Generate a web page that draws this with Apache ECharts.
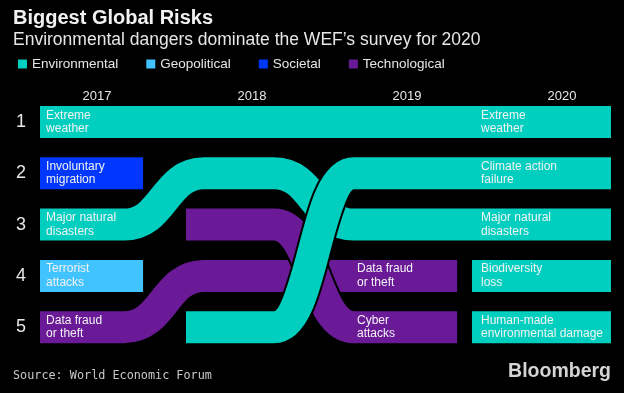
<!DOCTYPE html>
<html><head><meta charset="utf-8">
<script src="https://cdn.jsdelivr.net/npm/echarts@6/dist/echarts.min.js"></script>
<style>html,body{margin:0;padding:0;background:#000}#c{width:624px;height:393px}</style>
</head><body><div id="c"></div>
<script>
// ---- data ----
const years = [2017, 2018, 2019, 2020];
const rankLabels = [1, 2, 3, 4, 5];
const categoryNames = ['Environmental', 'Geopolitical', 'Societal', 'Technological'];
const categoryColors = ['#00CFC0', '#41C3FF', '#0037FF', '#6B1A97'];
const risks = ['Extreme\nweather', 'Involuntary\nmigration', 'Major natural\ndisasters', 'Terrorist\nattacks',
  'Data fraud\nor theft', 'Cyber\nattacks', 'Climate action\nfailure', 'Biodiversity\nloss', 'Human-made\nenvironmental damage'];
const riskCategory = ['Environmental', 'Societal', 'Environmental', 'Geopolitical',
  'Technological', 'Technological', 'Environmental', 'Environmental', 'Environmental'];
const rank2017 = [1, 2, 3, 4, 5, null, null, null, null];
const rank2018 = [1, null, 2, null, 4, 3, 5, null, null];
const rank2019 = [1, null, 3, null, 4, 5, 2, null, null];
const rank2020 = [1, null, 3, null, null, null, 2, 4, 5];
const labelRisk = [0, 1, 2, 3, 4, 4, 5, 0, 6, 2, 7, 8];
const labelYear = [2017, 2017, 2017, 2017, 2017, 2019, 2019, 2020, 2020, 2020, 2020, 2020];

// ---- layout (styles) ----
const rankByYear = [rank2017, rank2018, rank2019, rank2020];
const X_MIN = 2016.632, X_MAX = 2020.316;
const START_OFF = [0, -0.426, -0.4, -0.581];
const END_OFF = [0.297, 0.3, 0.323, 0.3];
const TRANS_MID = [0.432, 0.4, 0.4];
const TRANS_HALF = 0.258;
const CURVE = 0.5;
const BAND = 0.624;
const LABEL_OFF = {2017: -0.329, 2018: -0.32, 2019: -0.323, 2020: -0.523};
const FONT = '"Liberation Sans", Arial, sans-serif';
const drawOrder = ['Societal', 'Geopolitical', 'Technological', 'Environmental'];

function span(ri) {
  const rs = rankByYear.map(a => a[ri]);
  let f = rs.findIndex(v => v != null);
  let l = rs.length - 1;
  while (rs[l] == null) l--;
  return {rs, f, l};
}

function ribbonPath(ri, api) {
  const {rs, f, l} = span(ri);
  const x0 = f === 0 ? X_MIN : years[f] + START_OFF[f];
  const x1 = l === years.length - 1 ? X_MAX : years[l] + END_OFF[l];
  const P = (x, r) => api.coord([x, r]);
  let p = P(x0, rs[f]);
  let d = 'M' + p[0] + ',' + p[1];
  for (let i = f; i < l; i++) {
    if (rs[i + 1] !== rs[i]) {
      const c = years[i] + TRANS_MID[i];
      const a = P(c - TRANS_HALF, rs[i]), b = P(c + TRANS_HALF, rs[i + 1]);
      const k = (b[0] - a[0]) * CURVE;
      d += ' L' + a[0] + ',' + a[1] + ' C' + (a[0] + k) + ',' + a[1] + ' ' + (b[0] - k) + ',' + b[1] + ' ' + b[0] + ',' + b[1];
    }
  }
  p = P(x1, rs[l]);
  d += ' L' + p[0] + ',' + p[1];
  return d;
}

function jump(i) {
  const s = span(i);
  return Math.abs(s.rs[s.f] - s.rs[s.l]);
}

const series = drawOrder.map(cat => {
  const color = categoryColors[categoryNames.indexOf(cat)];
  const idx = risks.map((_, i) => i).filter(i => riskCategory[i] === cat).sort((a, b) => jump(a) - jump(b));
  return {
    name: cat,
    type: 'custom',
    itemStyle: {color},
    encode: {x: 0, y: 1},
    data: idx.map(i => { const s = span(i); return [years[s.f], s.rs[s.f], i]; }),
    renderItem: (params, api) => {
      const ri = api.value(2);
      const d = ribbonPath(ri, api);
      const w = Math.abs(api.size([0, BAND])[1]);
      return {
        type: 'group',
        children: [
          {type: 'path', shape: {pathData: d}, style: {fill: 'none', stroke: '#000', lineWidth: w + 4, lineCap: 'butt', lineJoin: 'round'}},
          {type: 'path', shape: {pathData: d}, style: {fill: 'none', stroke: color, lineWidth: w, lineCap: 'butt', lineJoin: 'round'}}
        ]
      };
    },
    z: 2
  };
});

series.push({
  name: 'labels',
  type: 'custom',
  encode: {x: 0, y: 1},
  data: labelRisk.map((ri, j) => {
    const yi = years.indexOf(labelYear[j]);
    return [labelYear[j] + LABEL_OFF[labelYear[j]], rankByYear[yi][ri], ri];
  }),
  renderItem: (params, api) => {
    const p = api.coord([api.value(0), api.value(1)]);
    return {
      type: 'text', x: p[0], y: p[1],
      style: {text: risks[api.value(2)], fill: '#f2f2f2', font: '12px ' + FONT, lineHeight: 13.5, align: 'left', verticalAlign: 'middle'}
    };
  },
  z: 5
});

const chart = echarts.init(document.getElementById('c'), null, {renderer: 'canvas'});
chart.setOption({
  backgroundColor: '#000',
  animation: false,
  grid: {left: 40, right: 13, top: 96.35, bottom: 40.15},
  legend: {
    data: categoryNames, left: 13, top: 52, icon: 'rect', itemWidth: 9, itemHeight: 9, itemGap: 28,
    selectedMode: false,
    textStyle: {color: '#e6e6e6', fontSize: 13.5, fontFamily: FONT}
  },
  xAxis: {
    type: 'value', position: 'top', min: X_MIN, max: X_MAX,
    axisLine: {show: false}, axisTick: {show: false}, splitLine: {show: false},
    axisLabel: {customValues: years, formatter: v => String(Math.round(v)), color: '#e6e6e6', fontSize: 13, fontFamily: FONT, margin: 0, verticalAlign: 'middle'}
  },
  yAxis: {
    type: 'value', inverse: true, min: 0.5, max: 5.5,
    axisLine: {show: false}, axisTick: {show: false}, splitLine: {show: false},
    axisLabel: {customValues: rankLabels, formatter: v => String(Math.round(v)), color: '#e6e6e6', fontSize: 18, fontFamily: FONT, margin: 14}
  },
  graphic: [
    {type: 'text', x: 13, y: 18, style: {text: 'Biggest Global Risks', font: 'bold 20px ' + FONT, fill: '#f2f2f2', verticalAlign: 'middle'}},
    {type: 'text', x: 13, y: 40, style: {text: 'Environmental dangers dominate the WEF\u2019s survey for 2020', font: '17.5px ' + FONT, fill: '#e6e6e6', verticalAlign: 'middle'}},
    {type: 'text', x: 13, y: 376, style: {text: 'Source: World Economic Forum', font: '11.8px "DejaVu Sans Mono", monospace', fill: '#c8c8c8', verticalAlign: 'middle'}},
    {type: 'text', x: 611, y: 372, style: {text: 'Bloomberg', font: 'bold 19.5px ' + FONT, fill: '#d4d4d4', align: 'right', verticalAlign: 'middle'}}
  ],
  series
});
</script></body></html>
